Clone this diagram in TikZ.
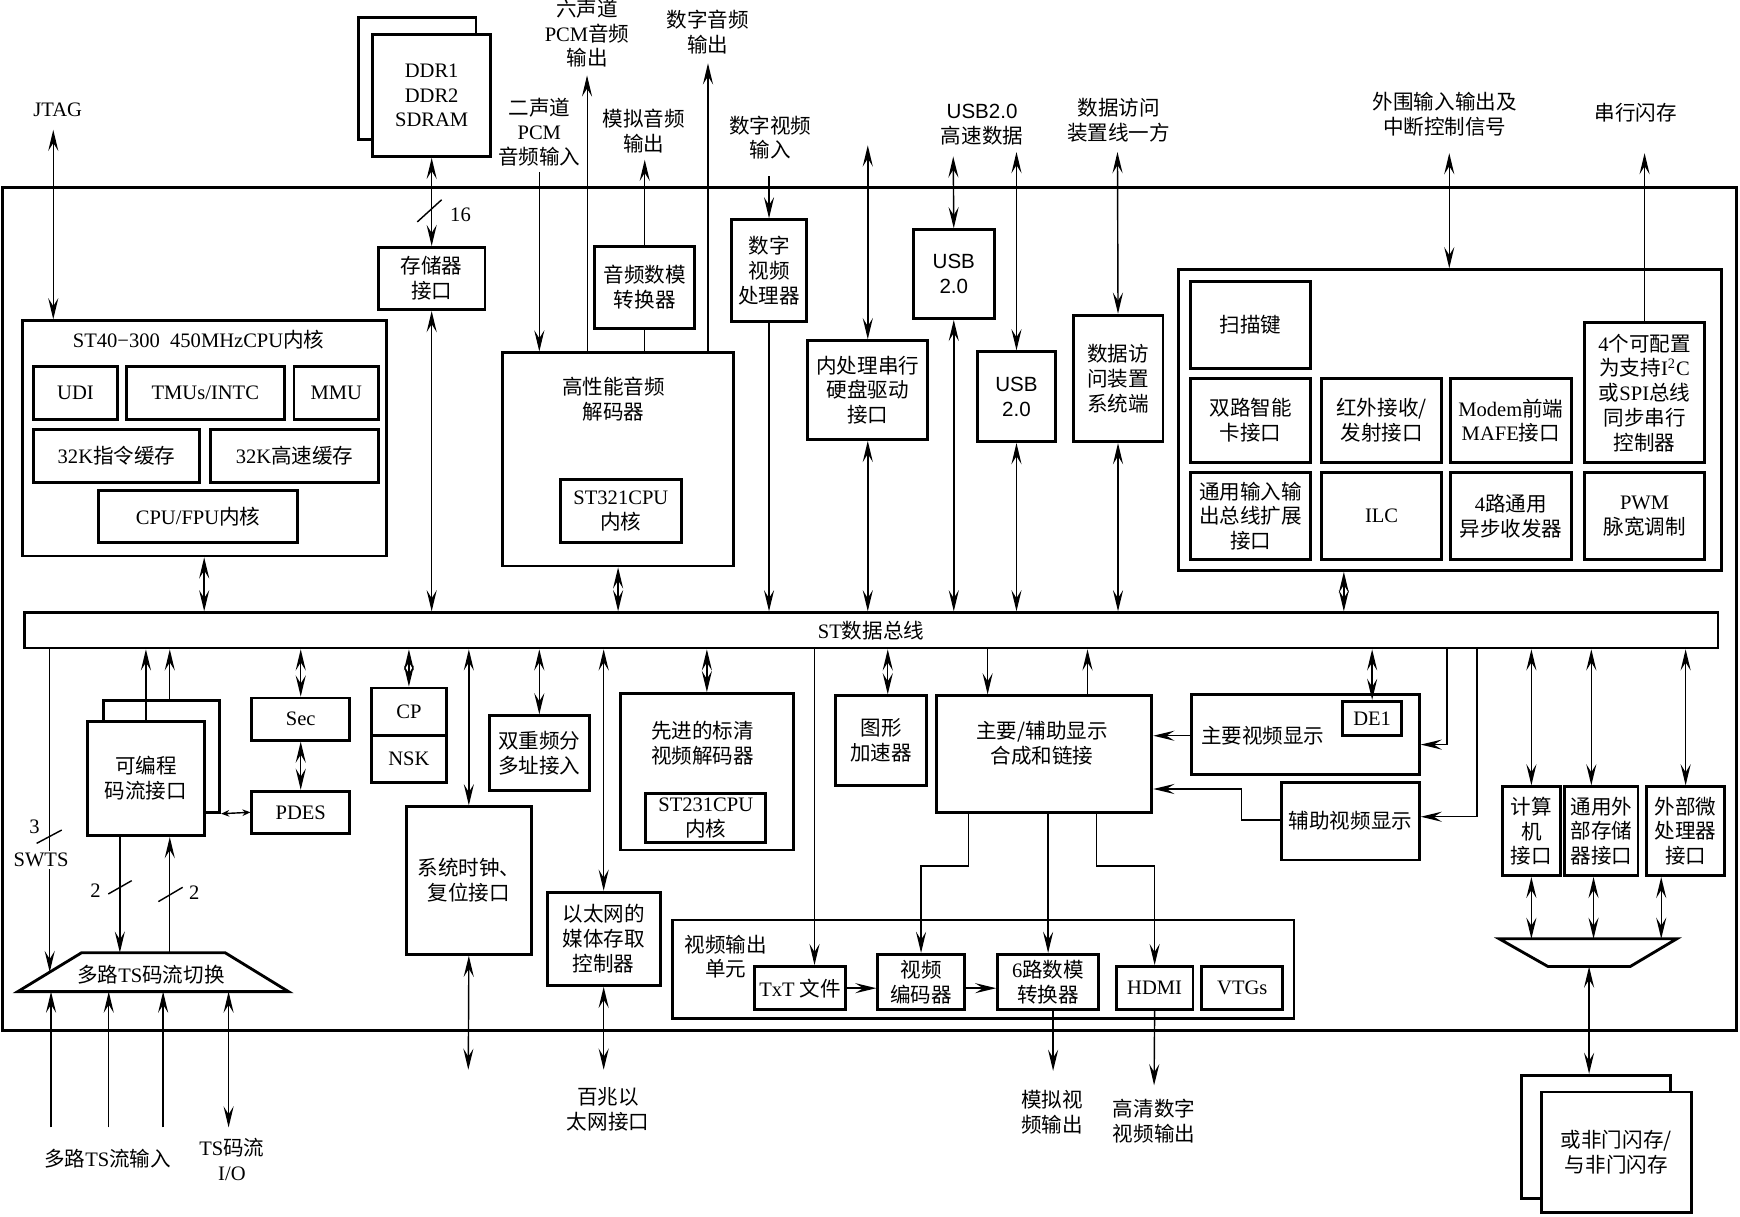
\documentclass[tikz,border=0pt]{standalone}
\usepackage{fontspec}
\setmainfont{Liberation Serif}
\setsansfont{Liberation Sans}
\newfontfamily\cjk{Noto Sans CJK SC}
\usepackage{tikz}
\usetikzlibrary{arrows.meta}
\def\px{0.022cm}
\newcommand{\zh}[1]{{\cjk #1}}
\newcommand{\fs}{\fontsize{11.6pt}{14pt}\selectfont}
% block from corner (#3,#4) to corner (#5,#6)
\newcommand{\blk}[7][]{%
\node[box, minimum width={(#5-#3)*\px}, minimum height={(#6-#4)*\px}, #1]
  (#2) at ({(#3+#5)/2},{(#4+#6)/2}) {#7};
}

\begin{document}
\begin{tikzpicture}[
    x=\px, y=-\px,
    line width=0.8pt,
    >={Stealth[length=4.2mm,width=2mm,inset=1.6mm]},
    box/.style={draw, line width=1.6pt, fill=white, inner sep=1pt, align=center, font=\fs},
    lbl/.style={inner sep=0pt, align=center, font=\fs},
    thinlink/.style={line width=0.5pt},
    shortarr/.style={>={Stealth[length=1.6mm,width=1.3mm]}}
]
\useasboundingbox (0,0) rectangle (1568,1096);

% chip outline
\blk[fill=none]{chip}{2}{169}{1565}{929}{}

% external memory
\blk{ddrB}{323}{16}{429}{126}{}
\blk{ddr}{336}{31}{442}{141}{DDR1\\DDR2\\SDRAM}
\blk{mem}{341}{223}{437}{279}{\zh{存储器}\\\zh{接口}}

% ST40 core
\blk{st40}{20}{289}{348}{501}{}
\node[lbl] (st40T) at (179,306) {ST40−300\ \ 450MHzCPU\zh{内核}};
\blk{udi}{30}{330}{106}{378}{UDI}
\blk{tmu}{114}{330}{256}{378}{TMUs/INTC}
\blk{mmu}{265}{330}{341}{378}{MMU}
\blk{icache}{30}{387}{180}{435}{32K\zh{指令缓存}}
\blk{dcache}{190}{387}{341}{435}{32K\zh{高速缓存}}
\blk{fpu}{89}{442}{268}{489}{CPU/FPU\zh{内核}}

% audio
\blk{hp}{453}{318}{661}{510}{}
\node[lbl] (hpT) at (553,360) {\zh{高性能音频}\\\zh{解码器}};
\blk{st321}{505}{432}{614}{489}{ST321CPU\\\zh{内核}}
\blk{dac}{536}{222}{626}{296}{\zh{音频数模}\\\zh{转换器}}

% upper column
\blk{dvp}{659}{198}{727}{290}{\zh{数字}\\\zh{视频}\\\zh{处理器}}
\blk{sata}{728}{307}{836}{396}{\zh{内处理串行}\\\zh{硬盘驱动}\\\zh{接口}}
\blk{usbA}{823}{207}{896}{287}{\sffamily USB\\\sffamily 2.0}
\blk{usbB}{881}{317}{951}{398}{\sffamily USB\\\sffamily 2.0}
\blk{dai}{967}{284}{1048}{398}{\zh{数据访}\\\zh{问装置}\\\zh{系统端}}

% peripherals
\blk{peri}{1062}{243}{1551}{514}{}
\blk{scan}{1073}{254}{1181}{332}{\zh{扫描键}}
\blk{card}{1073}{341}{1181}{417}{\zh{双路智能}\\\zh{卡接口}}
\blk{ir}{1191}{341}{1299}{417}{\zh{红外接收/}\\\zh{发射接口}}
\blk{mafe}{1307}{341}{1416}{417}{Modem\zh{前端}\\MAFE\zh{接口}}
\blk{i2c}{1428}{291}{1536}{417}{4\zh{个可配置}\\\zh{为支持}I\textsuperscript{2}C\\\zh{或}SPI\zh{总线}\\\zh{同步串行}\\\zh{控制器}}
\blk{gpio}{1073}{426}{1181}{504}{\zh{通用输入输}\\\zh{出总线扩展}\\\zh{接口}}
\blk{ilc}{1191}{426}{1299}{504}{ILC}
\blk{uart}{1307}{426}{1416}{504}{4\zh{路通用}\\\zh{异步收发器}}
\blk{pwm}{1428}{426}{1536}{504}{PWM\\\zh{脉宽调制}}

% bus
\blk[line width=1.4pt]{bus}{22}{552}{1548}{584}{ST\zh{数据总线}}

% below the bus
\blk{prgB}{93}{631}{198}{732}{}
\blk{prg}{79}{650}{184}{753}{\zh{可编程}\\\zh{码流接口}}
\blk{sec}{227}{629}{315}{667}{Sec}
\blk{pdes}{227}{713}{315}{751}{PDES}
\blk{cp}{335}{620}{402}{663}{CP}
\blk{nsk}{335}{663}{402}{705}{NSK}
\blk{clk}{366}{727}{479}{860}{\zh{系统时钟、}\\\zh{复位接口}}
\blk{cdma}{441}{645}{531}{712}{\zh{双重频分}\\\zh{多址接入}}
\blk{mac}{493}{804}{595}{888}{\zh{以太网的}\\\zh{媒体存取}\\\zh{控制器}}
\blk{sdv}{559}{625}{715}{766}{}
\node[lbl] (sdvT) at (633,670) {\zh{先进的标清}\\\zh{视频解码器}};
\blk[inner sep=0.5pt]{st231}{582}{715}{690}{759}{ST231CPU\\\zh{内核}}
\blk{gfx}{753}{627}{835}{708}{\zh{图形}\\\zh{加速器}}
\blk{comp}{844}{627}{1038}{732}{}
\node[lbl] (compT) at (939,670) {\zh{主要/辅助显示}\\\zh{合成和链接}};
\blk{mvd}{1074}{626}{1279}{698}{}
\node[lbl] (mvdT) at (1138,663) {\zh{主要视频显示}};
\blk{de1}{1210}{632}{1263}{663}{DE1}
\blk{aux}{1155}{705}{1279}{775}{\zh{辅助视频显示}}

% video output unit
\blk{vou}{606}{829}{1166}{918}{}
\node[lbl] (vouT) at (654,862) {\zh{视频输出}\\\zh{单元}};
\blk{txt}{680}{871}{762}{910}{TxT \zh{文件}}
\blk{venc}{791}{860}{869}{910}{\zh{视频}\\\zh{编码器}}
\blk{dac6}{899}{860}{990}{910}{6\zh{路数模}\\\zh{转换器}}
\blk{hdmi}{1006}{871}{1075}{910}{HDMI}
\blk{vtg}{1083}{871}{1156}{910}{VTGs}

% external interfaces
\blk{pc}{1354}{709}{1406}{789}{\zh{计算}\\\zh{机}\\\zh{接口}}
\blk{emi}{1410}{709}{1476}{789}{\zh{通用外}\\\zh{部存储}\\\zh{器接口}}
\blk{mpi}{1484}{709}{1554}{789}{\zh{外部微}\\\zh{处理器}\\\zh{接口}}
\coordinate (selTL) at (1351,846);
\coordinate (selTR) at (1511,846);
\coordinate (selBR) at (1469,871);
\coordinate (selBL) at (1395,871);
\coordinate (selB) at (1432,871);
\draw[line width=1.6pt, fill=white] (selTL) -- (selTR) -- (selBR) -- (selBL) -- cycle;
\blk{flashB}{1371}{969}{1505}{1080}{}
\blk{flash}{1389}{984}{1524}{1093}{\zh{或非门闪存/}\\\zh{与非门闪存}}

% TS switch
\coordinate (muxTL) at (73.6,858.5);
\coordinate (muxTR) at (202.8,858.5);
\coordinate (muxBR) at (260,893.6);
\coordinate (muxBL) at (16,893.6);
\coordinate (muxW) at (44.8,876);
\draw[line width=1.6pt, fill=white] (muxTL) -- (muxTR) -- (muxBR) -- (muxBL) -- cycle;
\node[lbl] (mux) at (136,878) {\zh{多路}TS\zh{码流切换}};

% free ends
\coordinate (jtagE) at (48,117);
\coordinate (pcm2E) at (486,155);
\coordinate (pcm6E) at (529,68);
\coordinate (aoutE) at (581,144);
\coordinate (doutE) at (638,57);
\coordinate (vinE) at (693,159);
\coordinate (sataE) at (782,131);
\coordinate (usbAE) at (859,141);
\coordinate (usbBE) at (916,137);
\coordinate (daiE) at (1007,137);
\coordinate (periE) at (1306,138);
\coordinate (sflE) at (1482,138);
\coordinate (clkE) at (422,964);
\coordinate (macE) at (544,964);
\coordinate (anaE) at (949,965);
\coordinate (hdE) at (1040,978);
\coordinate (tsA) at (46,1016);
\coordinate (tsB) at (98,1016);
\coordinate (tsC) at (147,1016);
\coordinate (tsIO) at (206,1016);

% outside labels
\node[lbl] (jtag) at (52,99) {JTAG};
\node[lbl] (w16) at (415,194) {16};
\node[lbl] (pcm2) at (486,119) {\zh{二声道}\\PCM\\\zh{音频输入}};
\node[lbl] (pcm6) at (529,30) {\zh{六声道}\\PCM\zh{音频}\\\zh{输出}};
\node[lbl] (aout) at (580,118) {\zh{模拟音频}\\\zh{输出}};
\node[lbl] (dout) at (638,29) {\zh{数字音频}\\\zh{输出}};
\node[lbl] (vin) at (694,124) {\zh{数字视频}\\\zh{输入}};
\node[lbl] (usbT) at (885,112) {{\sffamily USB2.0}\\\zh{高速数据}};
\node[lbl] (daiT) at (1008,108) {\zh{数据访问}\\\zh{装置线一方}};
\node[lbl] (periT) at (1302,103) {\zh{外围输入输出及}\\\zh{中断控制信号}};
\node[lbl] (sflT) at (1474,102) {\zh{串行闪存}};
\node[lbl] (macT) at (548,1000) {\zh{百兆以}\\\zh{太网接口}};
\node[lbl] (anaT) at (948,1002) {\zh{模拟视}\\\zh{频输出}};
\node[lbl] (hdT) at (1040,1010) {\zh{高清数字}\\\zh{视频输出}};
\node[lbl] (tsInT) at (97,1044) {\zh{多路}TS\zh{流输入}};
\node[lbl] (tsIoT) at (209,1045) {TS\zh{码流}\\I/O};

% top connections
\draw[<->] (jtagE) -- (jtagE |- st40.north);
\draw[<->] (ddr.south) -- (mem.north);
\draw (376,200) -- (398,180);
\draw[<->] (mem.south) -- (mem.south |- bus.north);
\draw[<->] (st40.south) -- (st40.south |- bus.north);
\draw[->, thinlink] (pcm2E) -- (pcm2E |- hp.north);
\draw[->, thinlink] (hp.north -| pcm6E) -- (pcm6E);
\draw[->] (dac.north) -- (aoutE);
\draw (dac.south) -- (dac.south |- hp.north);
\draw[->] (hp.north -| doutE) -- (doutE);
\draw[<->] (hp.south) -- (hp.south |- bus.north);
\draw[->] (vinE) -- (dvp.north);
\draw[->] (dvp.south) -- (dvp.south |- bus.north);
\draw[<->] (sataE) -- (sata.north);
\draw[<->] (sata.south) -- (sata.south |- bus.north);
\draw[<->] (usbAE) -- (usbA.north);
\draw[<->] (usbA.south) -- (usbA.south |- bus.north);
\draw[<->] (usbBE) -- (usbB.north);
\draw[<->] (usbB.south) -- (usbB.south |- bus.north);
\draw[<->] (daiE) -- (dai.north);
\draw[<->] (dai.south) -- (dai.south |- bus.north);
\draw[<->] (periE) -- (periE |- peri.north);
\draw[->] (i2c.north) -- (sflE);
\draw[<->] (peri.south -| 1211,0) -- (bus.north -| 1211,0);

% TS path
\draw[->] (bus.south -| muxW) -- (muxW);
\draw (33,760) -- (55.6,748);
\node[lbl] (w3) at (31,745) {3};
\node[lbl, fill=white, inner sep=1pt] (swts) at (37,775) {SWTS};
\draw[->] (prg.north) -- (prg.north |- bus.south);
\draw[->] (prgB.north -| 153,0) -- (bus.south -| 153,0);
\draw[->] (prg.south -| 108,0) -- (muxTL -| 108,0);
\draw[->] (muxTL -| 153,0) -- (prg.south -| 153,0);
\draw (97.6,805.6) -- (118.7,793.6);
\node[lbl] (w2a) at (86,803) {2};
\draw (142.7,812.5) -- (164.6,799.6);
\node[lbl] (w2b) at (175,804) {2};
\draw[->] (tsA) -- (tsA |- muxBL);
\draw[->] (tsB) -- (tsB |- muxBL);
\draw[->] (tsC) -- (tsC |- muxBL);
\draw[<->] (muxBL -| tsIO) -- (tsIO);
\draw[<->, shortarr] (prgB.south east) -- (pdes.west);

% bus clients below
\draw[<->] (bus.south -| sec.north) -- (sec.north);
\draw[<->] (sec.south) -- (pdes.north);
\draw[<->] (bus.south -| cp.north) -- (cp.north);
\draw[<->] (bus.south -| clk.north) -- (clk.north);
\draw[<->] (clk.south) -- (clkE);
\draw[<->] (bus.south -| cdma.north) -- (cdma.north);
\draw[<->] (bus.south -| mac.north) -- (mac.north);
\draw[<->] (mac.south) -- (macE);
\draw[<->] (bus.south -| sdv.north) -- (sdv.north);
\draw[->] (bus.south -| 734,0) -- (txt.north -| 734,0);
\draw[<->] (bus.south -| 800,0) -- (gfx.north -| 800,0);
\draw[->] (bus.south -| 890,0) -- (comp.north -| 890,0);
\draw[->] (comp.north -| 980,0) -- (bus.south -| 980,0);
\draw[<->] (bus.south -| de1.north) -- (de1.north);
\draw[->] (bus.south -| 1304,0) |- (mvd.east |- 0,671);
\draw[->] (bus.south -| 1331,0) |- (aux.east |- 0,736);
\draw[->] (mvd.west |- 0,663) -- (comp.east |- 0,663);
\draw[->] (aux.west |- 0,739) -| (1119,711) -- (comp.east |- 0,711);

% video output
\draw[->] (comp.south -| 873,0) -- ++(0,47) -| (venc.north);
\draw[->] (comp.south -| dac6.north) -- (dac6.north);
\draw[->] (comp.south -| 988,0) -- ++(0,47) -| (hdmi.north);
\draw[->] (txt.east) -- (venc.west |- txt.east);
\draw[->] (venc.east |- txt.east) -- (dac6.west |- txt.east);
\draw[->] (dac6.south -| anaE) -- (anaE);
\draw[->] (hdmi.south) -- (hdE);

% external interfaces
\draw[<->] (bus.south -| pc.north) -- (pc.north);
\draw[<->] (bus.south -| 1434,0) -- (emi.north -| 1434,0);
\draw[<->] (bus.south -| mpi.north) -- (mpi.north);
\draw[<->] (pc.south) -- (pc.south |- selTL);
\draw[<->] (emi.south -| 1436,0) -- (selTL -| 1436,0);
\draw[<->] (mpi.south -| 1497,0) -- (selTL -| 1497,0);
\draw[<->] (selB) -- (selB |- flashB.north);
\end{tikzpicture}
\end{document}
